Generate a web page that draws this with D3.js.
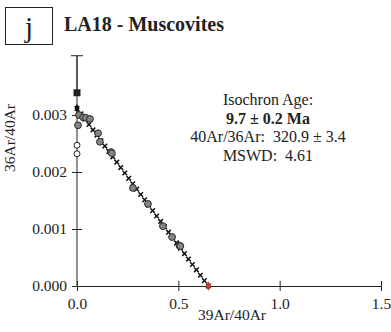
<!DOCTYPE html>
<html>
<head>
<meta charset="utf-8">
<script src="https://cdn.jsdelivr.net/npm/d3@7"></script>
<style>
  body { margin: 0; background: #fff; }
  text { font-family: "Liberation Serif", "Times New Roman", serif; fill: #222; white-space: pre; }
</style>
</head>
<body>
<div id="chart"></div>
<script>
// step data (39Ar/40Ar, 36Ar/40Ar)
const stepX = [0.005, 0.010, 0.030, 0.044, 0.064, 0.104, 0.113, 0.168, 0.172, 0.276, 0.350, 0.424, 0.469, 0.505, 0.510];
const stepY = [0.00282, 0.00300, 0.00296, 0.00295, 0.00293, 0.00268, 0.00253, 0.00235, 0.00233, 0.00172, 0.00144, 0.00105, 0.00086, 0.00071, 0.00070];

// excluded steps (open circles) and the air point (black square)
const openX = [0.0, 0.0];
const openY = [0.00247, 0.00232];
const airX = [0.0];
const airY = [0.00339];
const airErrTop = 0.00404;

// isochron fit
const yIntercept = 1 / 320.9;
const xIntercept = 0.648;
const fitMarks = 33;

const xTicks = [0.0, 0.5, 1.0, 1.5];
const yTicks = [0.000, 0.001, 0.002, 0.003];

const infoLines = [
  { text: "Isochron Age:", bold: false },
  { text: "9.7 \u00b1 0.2 Ma", bold: true },
  { text: "40Ar/36Ar:\u00a0 320.9 \u00b1 3.4", bold: false },
  { text: "MSWD:\u00a0 4.61", bold: false }
];

const W = 391, H = 332;
const svg = d3.select("#chart").append("svg").attr("width", W).attr("height", H);

const x = d3.scaleLinear().domain([0, 1.5]).range([77, 381]);
const y = d3.scaleLinear().domain([0, 0.001]).range([286, 229]);

// axes with ticks crossing the line
const xAxis = svg.append("g")
  .attr("transform", `translate(0,${y(0)})`)
  .call(d3.axisBottom(x).tickValues(xTicks).tickFormat(d3.format(".1f")).tickSizeOuter(0).tickSize(5).tickPadding(5));
xAxis.selectAll(".tick line").attr("y1", -5).attr("y2", 5);
xAxis.selectAll("text").attr("font-size", 15.5).attr("dy", "0.85em");

const yAxis = svg.append("g")
  .attr("transform", `translate(${x(0)},0)`)
  .call(d3.axisLeft(y).tickValues(yTicks).tickFormat(d3.format(".3f")).tickSizeOuter(0).tickSize(5).tickPadding(5));
yAxis.selectAll(".tick line").attr("x1", -5).attr("x2", 5);
yAxis.selectAll("text").attr("font-size", 15.5).attr("dy", "0.3em");
yAxis.select(".domain").attr("d", `M0,${y(0)}V${y(airErrTop)}`);
svg.selectAll(".domain, .tick line").attr("stroke", "#222").attr("stroke-width", 1);
svg.selectAll(".tick text").attr("fill", "#222").attr("font-family", "Liberation Serif");

// axis titles
svg.append("text").attr("x", 232).attr("y", 320).attr("text-anchor", "middle")
  .attr("font-size", 15.5).text("39Ar/40Ar");
svg.append("text").attr("transform", "translate(15,138) rotate(-90)").attr("text-anchor", "middle")
  .attr("font-size", 15.5).text("36Ar/40Ar");

// panel letter and title
svg.append("rect").attr("x", 5.5).attr("y", 7.5).attr("width", 47).attr("height", 37)
  .attr("fill", "none").attr("stroke", "#222");
svg.append("text").attr("x", 29).attr("y", 37).attr("text-anchor", "middle")
  .attr("font-size", 29).text("j");
svg.append("text").attr("x", 64).attr("y", 31).attr("font-size", 20).attr("font-weight", "bold")
  .text("LA18 - Muscovites");

// error bar on the air point
svg.append("line").attr("x1", x(0)).attr("x2", x(0)).attr("y1", y(airErrTop)).attr("y2", y(airY[0]))
  .attr("stroke", "#222");
svg.append("line").attr("x1", x(0) - 6).attr("x2", x(0) + 6).attr("y1", y(airErrTop)).attr("y2", y(airErrTop))
  .attr("stroke", "#222");

// fit line drawn as x markers
const fitPts = d3.range(fitMarks + 1).map(i => {
  const xv = xIntercept * i / fitMarks;
  return [xv, yIntercept * (1 - xv / xIntercept)];
});
svg.append("g").selectAll("path").data(fitPts).join("path")
  .attr("transform", d => `translate(${x(d[0])},${y(d[1])})`)
  .attr("d", "M-2.3,-2.3L2.3,2.3M-2.3,2.3L2.3,-2.3")
  .attr("stroke", "#111").attr("stroke-width", 1.5);

// steps
svg.append("g").selectAll("circle").data(stepX).join("circle")
  .attr("cx", d => x(d)).attr("cy", (d, i) => y(stepY[i])).attr("r", 3.4)
  .attr("fill", "#858585").attr("stroke", "#2a2a2a").attr("stroke-width", 1);

svg.append("g").selectAll("circle").data(openX).join("circle")
  .attr("cx", d => x(d)).attr("cy", (d, i) => y(openY[i])).attr("r", 3)
  .attr("fill", "#fff").attr("stroke", "#222").attr("stroke-width", 1);

svg.append("g").selectAll("rect").data(airX).join("rect")
  .attr("x", d => x(d) - 3.5).attr("y", (d, i) => y(airY[i]) - 3.5)
  .attr("width", 7).attr("height", 7).attr("fill", "#222");

// intercepts
svg.append("path").attr("transform", `translate(${x(0)},${y(yIntercept)})`)
  .attr("d", d3.symbol(d3.symbolDiamond, 22)()).attr("fill", "#111");
svg.append("path").attr("transform", `translate(${x(xIntercept)},${y(0)})`)
  .attr("d", d3.symbol(d3.symbolDiamond, 26)()).attr("fill", "#c0392b");

// info block
svg.append("g").selectAll("text").data(infoLines).join("text")
  .attr("x", 268).attr("y", (d, i) => 105 + i * 18.5)
  .attr("text-anchor", "middle").attr("font-size", 16)
  .attr("font-weight", d => d.bold ? "bold" : "normal")
  .text(d => d.text);
</script>
</body>
</html>
